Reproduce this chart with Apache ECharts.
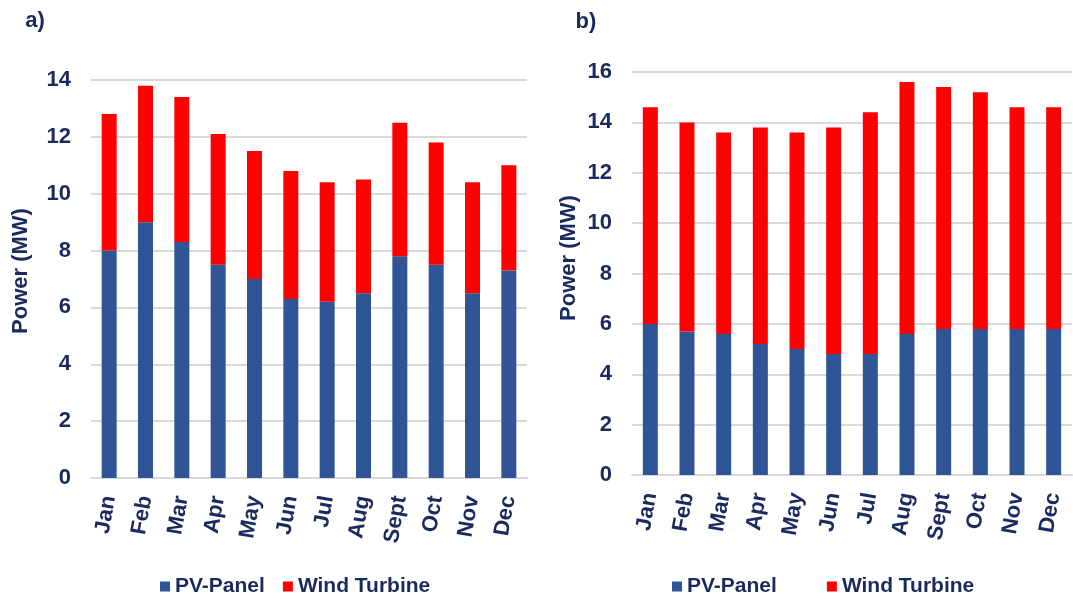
<!DOCTYPE html>
<html>
<head>
<meta charset="utf-8">
<script src="https://cdn.jsdelivr.net/npm/echarts@6/dist/echarts.min.js"></script>
<style>
  html, body { margin: 0; padding: 0; background: #fff; }
  #chart { width: 1073px; height: 599px; }
</style>
</head>
<body>
<div id="chart"></div>
<script>
// months on both x axes
const months = ["Jan", "Feb", "Mar", "Apr", "May", "Jun", "Jul", "Aug", "Sept", "Oct", "Nov", "Dec"];

// panel a)
const pvA   = [8.0, 9.0, 8.3, 7.5, 7.0, 6.3, 6.2, 6.5, 7.8, 7.5, 6.5, 7.3];
const windA = [4.8, 4.8, 5.1, 4.6, 4.5, 4.5, 4.2, 4.0, 4.7, 4.3, 3.9, 3.7];

// panel b)
const pvB   = [6.0, 5.7, 5.6, 5.2, 5.0, 4.8, 4.8, 5.6, 5.8, 5.8, 5.8, 5.8];
const windB = [8.6, 8.3, 8.0, 8.6, 8.6, 9.0, 9.6, 10.0, 9.6, 9.4, 8.8, 8.8];

const navy = "#1B2A5E";
const blue = "#2F5597";
const red = "#FF0000";
const font = "Arial, 'Liberation Sans', sans-serif";

function xAxisFor(gridIndex) {
  return {
    type: "category",
    gridIndex: gridIndex,
    data: months,
    axisLine: { lineStyle: { color: "#d9d9d9", width: 2 } },
    axisTick: { show: false },
    axisLabel: {
      rotate: 80,
      margin: 18,
      color: navy,
      fontSize: 22,
      fontWeight: "bold",
      fontFamily: font
    }
  };
}

function yAxisFor(gridIndex, max) {
  return {
    type: "value",
    gridIndex: gridIndex,
    min: 0,
    max: max,
    interval: 2,
    axisLine: { show: false },
    axisTick: { show: false },
    splitLine: { lineStyle: { color: "#d9d9d9", width: 2 } },
    axisLabel: {
      margin: 20,
      color: navy,
      fontSize: 22,
      fontWeight: "bold",
      fontFamily: font
    }
  };
}

function legendAt(left, gap) {
  return {
    left: left,
    top: 571,
    icon: "rect",
    itemWidth: 10,
    itemHeight: 10,
    itemGap: gap,
    textStyle: { color: navy, fontSize: 21, fontWeight: "bold", fontFamily: font },
    data: ["PV-Panel", "Wind Turbine"]
  };
}

function label(text, x, y, rotation) {
  return {
    type: "text",
    x: x,
    y: y,
    rotation: rotation || 0,
    style: {
      text: text,
      fill: navy,
      font: "bold 22px " + font,
      align: "center",
      verticalAlign: "middle"
    }
  };
}

const chart = echarts.init(document.getElementById("chart"));

chart.setOption({
  animation: false,
  color: [blue, red],
  grid: [
    { left: 91, top: 80, width: 436, height: 398 },
    { left: 632, top: 72, width: 440, height: 403 }
  ],
  xAxis: [xAxisFor(0), xAxisFor(1)],
  yAxis: [yAxisFor(0, 14), yAxisFor(1, 16)],
  legend: [legendAt(155, 18), legendAt(667, 50)],
  graphic: [
    label("a)", 35, 21),
    label("b)", 586, 22),
    label("Power (MW)", 21, 271, Math.PI / 2),
    label("Power (MW)", 569, 258, Math.PI / 2)
  ],
  series: [
    { name: "PV-Panel", type: "bar", stack: "a", xAxisIndex: 0, yAxisIndex: 0, barWidth: 15, data: pvA, itemStyle: { color: blue } },
    { name: "Wind Turbine", type: "bar", stack: "a", xAxisIndex: 0, yAxisIndex: 0, barWidth: 15, data: windA, itemStyle: { color: red } },
    { name: "PV-Panel", type: "bar", stack: "b", xAxisIndex: 1, yAxisIndex: 1, barWidth: 15, data: pvB, itemStyle: { color: blue } },
    { name: "Wind Turbine", type: "bar", stack: "b", xAxisIndex: 1, yAxisIndex: 1, barWidth: 15, data: windB, itemStyle: { color: red } }
  ]
});
</script>
</body>
</html>
